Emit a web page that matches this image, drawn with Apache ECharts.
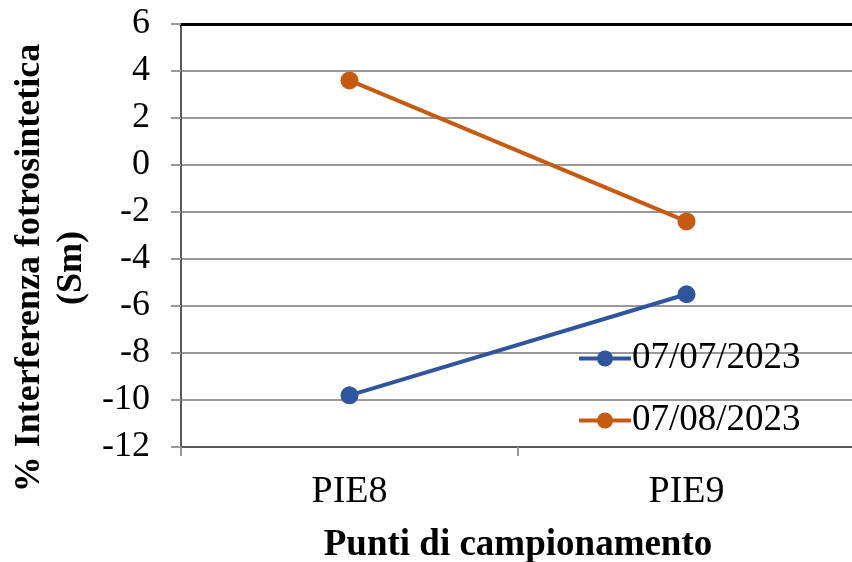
<!DOCTYPE html>
<html>
<head>
<meta charset="utf-8">
<script src="https://cdn.jsdelivr.net/npm/echarts@6/dist/echarts.min.js"></script>
<style>html,body{margin:0;padding:0;background:#fff}#c{width:852px;height:562px}</style>
</head>
<body>
<div id="c"></div>
<script>
// Sampling points and photosynthetic interference per survey date
const categories = ['PIE8', 'PIE9'];
const seriesNames = ['07/07/2023', '07/08/2023'];
const julyValues = [-9.8, -5.5];
const augustValues = [3.6, -2.4];
const seriesColors = ['#2f559c', '#c55a11'];
const yTitle = '% Interferenza fotrosintetica\n(Sm)';
const xTitle = 'Punti di campionamento';

const serif = '"Liberation Serif", "Times New Roman", serif';
const chart = echarts.init(document.getElementById('c'));
chart.setOption({
  animation: false,
  backgroundColor: '#fff',
  grid: { left: 181, top: 24, right: -3, bottom: 115, outerBoundsMode: 'none', containLabel: false },
  legend: {
    orient: 'vertical', left: 577, top: 340, itemGap: 25, padding: 0,
    itemWidth: 52, itemHeight: 20,
    lineStyle: { width: 4 },
    textStyle: { fontFamily: serif, fontSize: 37, color: '#000', padding: [0, 0, 0, -4] },
    data: seriesNames
  },
  graphic: [{
    type: 'text', x: 51, y: 268, rotation: Math.PI / 2,
    style: {
      text: yTitle, fontFamily: serif, fontSize: 36, fontWeight: 'bold', fill: '#000',
      lineHeight: 42, align: 'center', verticalAlign: 'middle'
    }
  }],
  xAxis: [{
    type: 'category', data: categories, boundaryGap: true,
    axisLine: { onZero: false, lineStyle: { color: '#595959', width: 2 } },
    axisTick: { show: true, length: 9, lineStyle: { color: '#999', width: 2 } },
    axisLabel: { fontFamily: serif, fontSize: 38, color: '#000', margin: 26 },
    name: xTitle, nameLocation: 'middle', nameGap: 80,
    nameTextStyle: { fontFamily: serif, fontSize: 37, fontWeight: 'bold', color: '#000' }
  }, {
    type: 'category', data: categories, position: 'top',
    axisLine: { onZero: false, lineStyle: { color: '#000', width: 3 } },
    axisTick: { show: false }, axisLabel: { show: false }
  }],
  yAxis: {
    type: 'value', min: -12, max: 6, interval: 2,
    axisLine: { show: true, lineStyle: { color: '#595959', width: 2 } },
    axisTick: { show: true, length: 10, lineStyle: { color: '#999', width: 2 } },
    axisLabel: { fontFamily: serif, fontSize: 36, color: '#000', margin: 31 },
    splitLine: { lineStyle: { color: '#999', width: 2 } }
  },
  series: [
    { name: seriesNames[0], type: 'line', data: julyValues, symbol: 'circle', symbolSize: 18,
      lineStyle: { color: seriesColors[0], width: 4 }, itemStyle: { color: seriesColors[0] } },
    { name: seriesNames[1], type: 'line', data: augustValues, symbol: 'circle', symbolSize: 18,
      lineStyle: { color: seriesColors[1], width: 4 }, itemStyle: { color: seriesColors[1] } }
  ]
});
</script>
</body>
</html>
